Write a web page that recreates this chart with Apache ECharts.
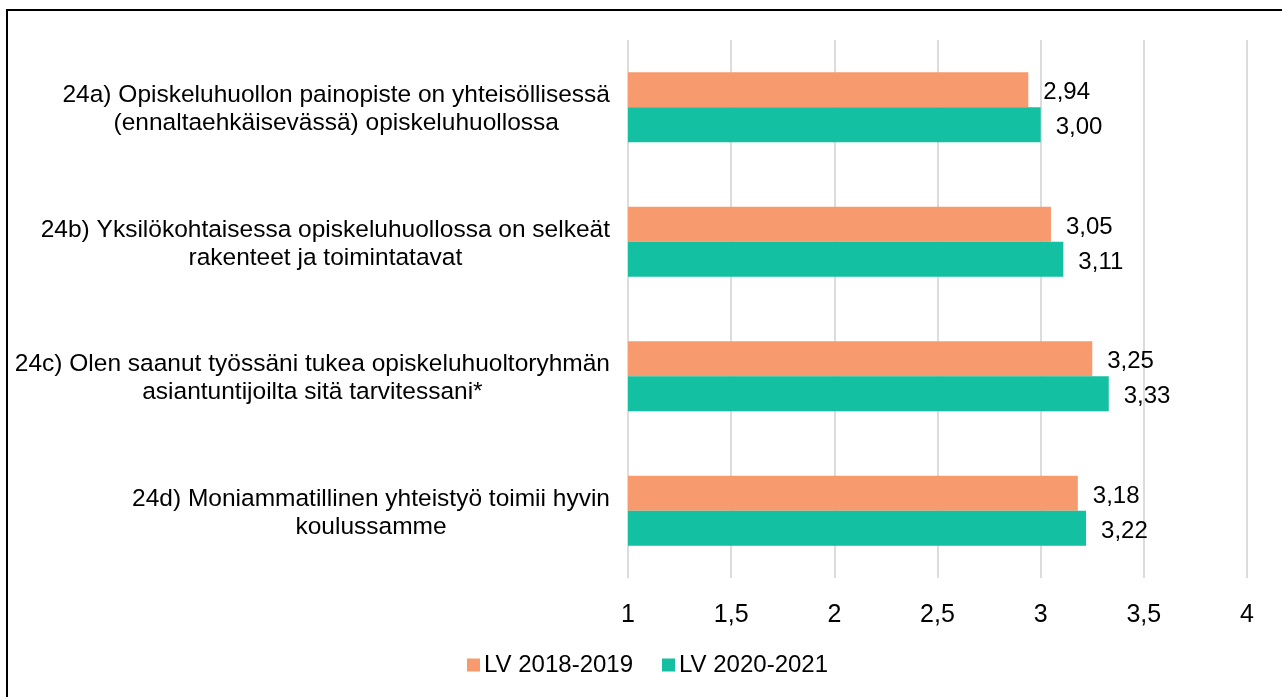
<!DOCTYPE html>
<html>
<head>
<meta charset="utf-8">
<script src="https://cdn.jsdelivr.net/npm/echarts@6/dist/echarts.min.js"></script>
<style>
    html, body { margin: 0; padding: 0; background: #fff; }
    #chart { width: 1282px; height: 697px; }
</style>
</head>
<body>
<div id="chart"></div>
<script>
// kysymykset ylhäältä alas
const categories = [
    '24a) Opiskeluhuollon painopiste on yhteisöllisessä\n(ennaltaehkäisevässä) opiskeluhuollossa',
    '24b) Yksilökohtaisessa opiskeluhuollossa on selkeät\nrakenteet ja toimintatavat',
    '24c) Olen saanut työssäni tukea opiskeluhuoltoryhmän\nasiantuntijoilta sitä tarvitessani*',
    '24d) Moniammatillinen yhteistyö toimii hyvin\nkoulussamme'
]
const seriesNames = ['LV 2018-2019', 'LV 2020-2021']
const lv2018 = [2.94, 3.05, 3.25, 3.18]
const lv2020 = [3.00, 3.11, 3.33, 3.22]

const font = '"Liberation Sans", Arial, sans-serif'
const comma = v => String(v).replace('.', ',')

let chart = echarts.init(document.getElementById('chart'))

const barLabel = {
    show: true,
    position: 'right',
    distance: 15,
    offset: [0, 3],
    fontFamily: font,
    fontSize: 24,
    color: '#000',
    formatter: p => p.value.toFixed(2).replace('.', ',')
}

let option = {
    animation: false,
    textStyle: { fontFamily: font },
    graphic: [{
        type: 'rect',
        shape: { x: 7, y: 10, width: 1320, height: 720 },
        style: { fill: 'none', stroke: '#000', lineWidth: 2 }
    }],
    grid: { left: 628, right: 35, top: 40, bottom: 119 },
    legend: {
        left: 462,
        top: 648,
        icon: 'rect',
        itemWidth: 13,
        itemHeight: 13,
        itemGap: 29,
        textStyle: { fontFamily: font, fontSize: 24, color: '#000', padding: [0, 0, 0, -1] },
        data: seriesNames
    },
    xAxis: {
        type: 'value',
        min: 1,
        max: 4,
        interval: 0.5,
        axisLine: { show: false },
        axisTick: { show: false },
        splitLine: { show: true, lineStyle: { color: '#dcdcdc', width: 2 } },
        axisLabel: {
            margin: 25,
            fontFamily: font,
            fontSize: 25,
            color: '#000',
            formatter: v => comma(v)
        }
    },
    yAxis: {
        type: 'category',
        inverse: true,
        data: categories,
        axisLine: { show: false },
        axisTick: { show: false },
        axisLabel: {
            margin: 18,
            formatter: v => '{a|' + v + '}',
            rich: {
                a: {
                    align: 'center',
                    fontFamily: font,
                    fontSize: 24.5,
                    lineHeight: 28,
                    color: '#000',
                    padding: [4, 0, 0, 0]
                }
            }
        }
    },
    series: [
        {
            name: seriesNames[0],
            type: 'bar',
            data: lv2018,
            barWidth: 35,
            barGap: '0%',
            itemStyle: { color: '#F79A6E' },
            label: barLabel
        },
        {
            name: seriesNames[1],
            type: 'bar',
            data: lv2020,
            barWidth: 35,
            barGap: '0%',
            itemStyle: { color: '#13C0A1' },
            label: barLabel
        }
    ]
}

chart.setOption(option)
</script>
</body>
</html>
